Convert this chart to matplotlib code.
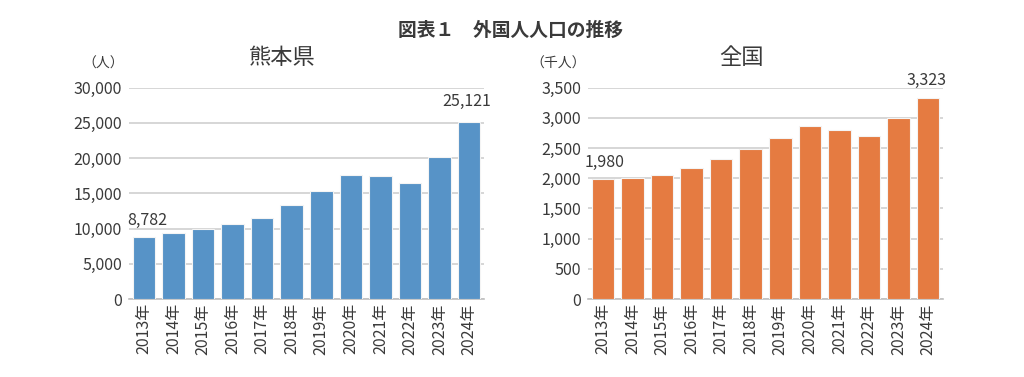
import numpy as np
import matplotlib
matplotlib.use("Agg")
import matplotlib.pyplot as plt
from matplotlib.ticker import FuncFormatter, MultipleLocator

plt.rcParams['font.family'] = ['Noto Sans CJK JP', 'DejaVu Sans']

# data
years = [f"{y}年" for y in range(2013, 2025)]
kumamoto = [8782, 9370, 9890, 10600, 11450, 13350, 15300, 17600, 17500, 16400, 20200, 25121]
japan = [1980, 2000, 2054, 2170, 2319, 2490, 2661, 2860, 2805, 2700, 2993, 3323]

text_col = "#3a3a3a"
grid_col = "#d0d0d0"
fs = 11.5

fig = plt.figure(figsize=(10.24, 3.77), dpi=100)
W, H = 1024, 377

def make_axes(x0, x1, y_top, y_bot):
    return fig.add_axes([x0 / W, 1 - y_bot / H, (x1 - x0) / W, (y_bot - y_top) / H])

ax1 = make_axes(129, 484, 87.7, 299)
ax2 = make_axes(588, 943, 87.7, 299)

def style(ax, vals, color, ymax, step):
    x = np.arange(len(vals))
    ax.bar(x, vals, width=0.76, color=color, edgecolor="#f4f4f4", linewidth=0.8, zorder=3)
    ax.set_xlim(-0.5, len(vals) - 0.5)
    ax.set_ylim(0, ymax)
    ax.yaxis.set_major_locator(MultipleLocator(step))
    ax.yaxis.set_major_formatter(FuncFormatter(lambda v, p: f"{int(v):,}"))
    ax.grid(axis="y", color=grid_col, linewidth=1.2, zorder=0)
    for s in ["top", "right", "left"]:
        ax.spines[s].set_visible(False)
    ax.spines["bottom"].set_color("#bfbfbf")
    ax.spines["bottom"].set_linewidth(1.2)
    ax.set_xticks(x)
    ax.set_xticklabels(years, rotation=90, fontsize=fs, color=text_col)
    ax.tick_params(axis="both", length=0, colors=text_col, labelsize=fs)
    ax.tick_params(axis="x", pad=3)
    ax.tick_params(axis="y", pad=5)
    return x

x1 = style(ax1, kumamoto, "#5793c7", 30000, 5000)
x2 = style(ax2, japan, "#e57b41", 3500, 500)

ax1.text(x1[0] - 0.55, kumamoto[0] + 1100, f"{kumamoto[0]:,}", fontsize=fs, color=text_col, ha="left", va="bottom")
ax1.text(x1[-1] - 0.1, kumamoto[-1] + 1700, f"{kumamoto[-1]:,}", fontsize=fs, color=text_col, ha="center", va="bottom")
ax2.text(x2[0] - 0.6, japan[0] + 140, f"{japan[0]:,}", fontsize=fs, color=text_col, ha="left", va="bottom")
ax2.text(x2[-1] - 0.05, japan[-1] + 150, f"{japan[-1]:,}", fontsize=fs, color=text_col, ha="center", va="bottom")

fig.text(510 / W, 1 - 30 / H, "図表１　外国人人口の推移", fontsize=13.5, fontweight="bold", color=text_col, ha="center", va="center")
fig.text(282 / W, 1 - 57 / H, "熊本県", fontsize=16, color=text_col, ha="center", va="center")
fig.text(741 / W, 1 - 57 / H, "全国", fontsize=16, color=text_col, ha="center", va="center")
fig.text(103 / W, 1 - 64 / H, "（人）", fontsize=10, color=text_col, ha="center", va="center")
fig.text(558 / W, 1 - 64 / H, "（千人）", fontsize=10, color=text_col, ha="center", va="center")

fig.savefig("out.png", dpi=100)
